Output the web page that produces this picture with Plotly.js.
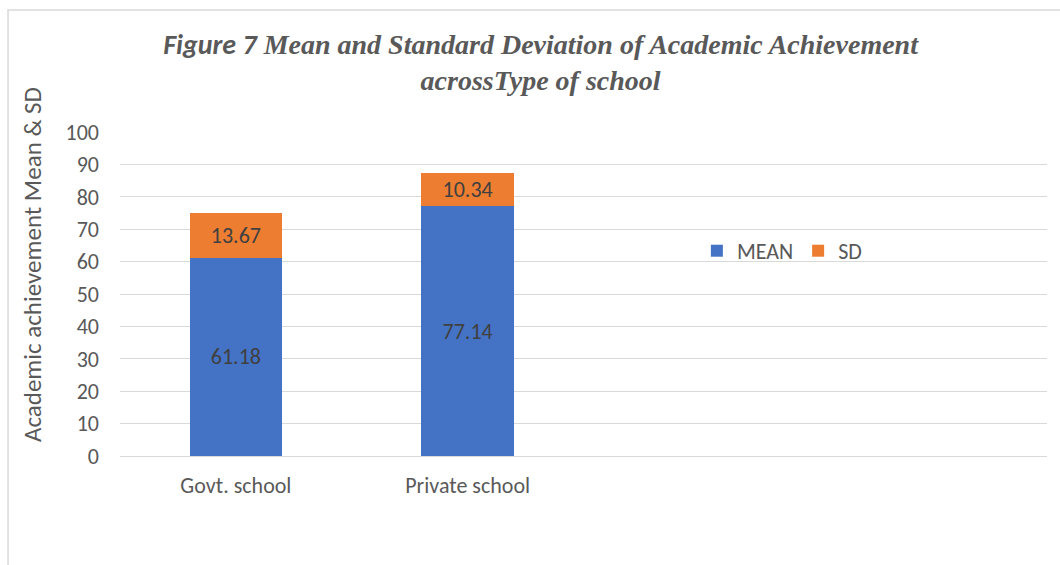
<!DOCTYPE html>
<html>
<head>
<meta charset="utf-8">
<script src="https://cdn.plot.ly/plotly-3.0.1.min.js"></script>
<style>
html,body{margin:0;padding:0;background:#fff;}
#chart{width:1060px;height:565px;}
</style>
</head>
<body>
<div id="chart"></div>
<script>
const categories = ["Govt. school", "Private school"];
const meanValues = [61.18, 77.14];
const sdValues = [13.67, 10.34];
const seriesNames = ["MEAN", "SD"];
const yTicks = [0, 10, 20, 30, 40, 50, 60, 70, 80, 90, 100];
const yAxisTitle = "Academic achievement Mean &amp; SD";

const sansFont = "Carlito, Calibri, Lato, Open Sans, Liberation Sans, sans-serif";
const serifFont = "Liberation Serif, Times New Roman, serif";
const labelFont = {family: sansFont, size: 22, color: "#404040"};

const traces = [
  {
    type: "bar", name: seriesNames[0], x: categories, y: meanValues,
    marker: {color: "#4472C4"}, width: 0.4,
    text: meanValues.map(v => v.toFixed(2)), textposition: "inside",
    insidetextanchor: "middle", textfont: labelFont, hoverinfo: "x+y"
  },
  {
    type: "bar", name: seriesNames[1], x: categories, y: sdValues,
    marker: {color: "#ED7D31"}, width: 0.4,
    text: sdValues.map(v => v.toFixed(2)), textposition: "inside",
    insidetextanchor: "middle", textfont: labelFont, hoverinfo: "x+y"
  }
];

const layout = {
  width: 1060, height: 565,
  paper_bgcolor: "#fff", plot_bgcolor: "#fff",
  margin: {l: 120, r: 13, t: 132, b: 109},
  barmode: "stack",
  title: {
    text: "<span style=\"font-family:Carlito, Calibri, Lato, sans-serif\">Figure 7</span><span style=\"font-family:Liberation Serif, Times New Roman, serif\"> Mean and Standard Deviation of Academic Achievement</span><br><span style=\"font-family:Liberation Serif, Times New Roman, serif\">acrossType of school</span>",
    font: {family: serifFont, size: 28, color: "#595959", weight: "bold", style: "italic"},
    x: 0.51, xanchor: "center", y: 0.905, yanchor: "top"
  },
  xaxis: {
    type: "category", categoryorder: "array", categoryarray: categories,
    range: [-0.5, 3.5], showgrid: false, zeroline: false, showline: false,
    tickfont: {family: sansFont, size: 22, color: "#595959"}, ticks: "", ticklabelstandoff: 14,
    fixedrange: true
  },
  yaxis: {
    range: [0, 100], tickvals: yTicks, showgrid: true, gridcolor: "#d9d9d9", gridwidth: 1,
    zeroline: true, zerolinecolor: "#d9d9d9", zerolinewidth: 1, showline: false,
    tickfont: {family: sansFont, size: 22, color: "#595959"}, ticks: "", ticklabelstandoff: 20,
    fixedrange: true
  },
  annotations: [
    {text: yAxisTitle, xref: "paper", yref: "paper", x: -0.0949, y: 0.5895,
     xanchor: "center", yanchor: "middle", textangle: -90, showarrow: false,
     font: {family: sansFont, size: 25, color: "#595959"}}
  ],
  legend: {
    orientation: "h", x: 0.714, xanchor: "center", y: 0.633, yanchor: "middle",
    font: {family: sansFont, size: 22, color: "#595959"}, bgcolor: "rgba(0,0,0,0)",
    itemwidth: 30, traceorder: "normal"
  },
  shapes: [
    {type: "rect", xref: "paper", yref: "paper", x0: -0.1208, x1: 1.03, y0: -0.36, y1: 1.3765,
     line: {color: "#d9d9d9", width: 1.5}, fillcolor: "rgba(0,0,0,0)", layer: "below"}
  ],
  showlegend: true
};

Plotly.newPlot("chart", traces, layout, {displayModeBar: false, staticPlot: true});
</script>
</body>
</html>
